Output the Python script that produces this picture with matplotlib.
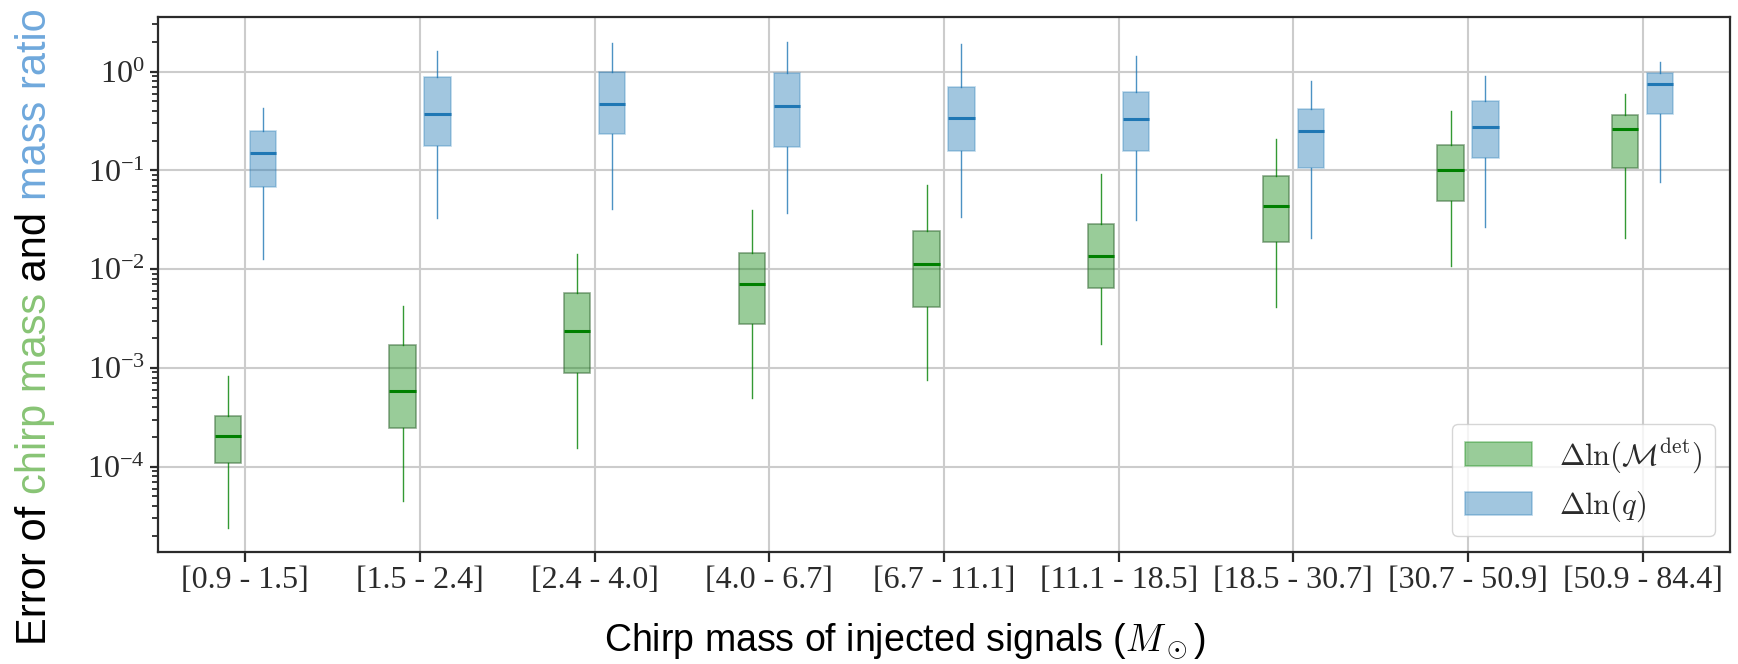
import matplotlib
matplotlib.use("Agg")
import matplotlib.pyplot as plt
from matplotlib.patches import Patch
import numpy as np

# mass bins on the x axis
bins = ["[0.9 - 1.5]", "[1.5 - 2.4]", "[2.4 - 4.0]", "[4.0 - 6.7]", "[6.7 - 11.1]",
        "[11.1 - 18.5]", "[18.5 - 30.7]", "[30.7 - 50.9]", "[50.9 - 84.4]"]

# chirp mass error: whisker low, q1, median, q3, whisker high
mc_lo = [2.42e-5, 4.5e-5, 1.56e-4, 4.98e-4, 7.5e-4, 1.73e-3, 4.1e-3, 1.08e-2, 2.05e-2]
mc_q1 = [1.08e-4, 2.44e-4, 8.8e-4, 2.78e-3, 4.1e-3, 6.4e-3, 1.88e-2, 4.9e-2, 1.07e-1]
mc_med = [2.05e-4, 5.8e-4, 2.36e-3, 7.0e-3, 1.135e-2, 1.367e-2, 4.36e-2, 1.01e-1, 2.63e-1]
mc_q3 = [3.3e-4, 1.69e-3, 5.8e-3, 1.45e-2, 2.43e-2, 2.88e-2, 8.77e-2, 1.81e-1, 3.64e-1]
mc_hi = [8.3e-4, 4.2e-3, 1.42e-2, 3.94e-2, 7.06e-2, 9.12e-2, 2.065e-1, 4.0e-1, 5.9e-1]

# mass ratio error
q_lo = [1.28e-2, 3.3e-2, 4.06e-2, 3.67e-2, 3.4e-2, 3.17e-2, 2.05e-2, 2.69e-2, 7.69e-2]
q_q1 = [6.8e-2, 1.77e-1, 2.32e-1, 1.73e-1, 1.56e-1, 1.56e-1, 1.07e-1, 1.33e-1, 3.73e-1]
q_med = [1.5e-1, 3.7e-1, 4.7e-1, 4.5e-1, 3.37e-1, 3.3e-1, 2.49e-1, 2.73e-1, 7.55e-1]
q_q3 = [2.49e-1, 8.9e-1, 1.0, 9.7e-1, 6.95e-1, 6.2e-1, 4.16e-1, 5.08e-1, 9.7e-1]
q_hi = [4.3e-1, 1.6, 1.97, 2.0, 1.89, 1.44, 8.05e-1, 9.1e-1, 1.26]

plt.rcParams['mathtext.fontset'] = 'stix'
plt.rcParams['font.family'] = ['Liberation Serif', 'DejaVu Serif']

GREEN = 'green'
BLUE = '#1f77b4'


def stats(lo, q1, med, q3, hi):
    return [dict(whislo=a, q1=b, med=c, q3=d, whishi=e, fliers=[])
            for a, b, c, d, e in zip(lo, q1, med, q3, hi)]


fig = plt.figure(figsize=(17.38, 6.64), dpi=100)
ax = fig.add_axes([0.0909, 0.1691, 0.9045, 0.8058])

x = np.arange(len(bins))
ax.bxp(stats(mc_lo, mc_q1, mc_med, mc_q3, mc_hi), positions=x - 0.1, widths=0.15,
       patch_artist=True, showcaps=False, showfliers=False,
       boxprops=dict(facecolor=(0, 0.5, 0, 0.4), edgecolor=(0.2, 0.4, 0.2, 0.55), linewidth=1.2),
       medianprops=dict(color=GREEN, linewidth=2.2),
       whiskerprops=dict(color=GREEN, linewidth=1.0, alpha=0.8), zorder=3)
ax.bxp(stats(q_lo, q_q1, q_med, q_q3, q_hi), positions=x + 0.1, widths=0.15,
       patch_artist=True, showcaps=False, showfliers=False,
       boxprops=dict(facecolor=(0.12, 0.47, 0.71, 0.42), edgecolor=(0.12, 0.47, 0.71, 0.3), linewidth=1.2),
       medianprops=dict(color=BLUE, linewidth=2.2),
       whiskerprops=dict(color=BLUE, linewidth=1.0, alpha=0.8), zorder=3)

ax.set_yscale('log')
ax.set_ylim(1.38e-5, 3.6)
ax.set_xlim(-0.5, len(bins) - 0.5)
ax.set_xticks(x)
ax.set_xticklabels(bins)
ax.grid(True, which='major', color='#cccccc', linewidth=1.5, zorder=0)
ax.set_axisbelow(True)

for s in ax.spines.values():
    s.set_color('#2b2b2b')
    s.set_linewidth(1.6)
ax.tick_params(axis='both', which='major', labelsize=23, colors='#2b2b2b', width=1.6)
ax.tick_params(axis='x', which='major', length=7)
ax.tick_params(axis='y', which='major', length=6)
ax.tick_params(axis='y', which='minor', length=4, width=1.3, colors='#2b2b2b')

ax.set_xlabel(r'Chirp mass of injected signals ($M_\odot$)', fontsize=27,
              family='Liberation Sans', math_fontfamily='cm')
ax.xaxis.set_label_coords(0.475, -0.13)

handles = [Patch(facecolor=(0, 0.5, 0, 0.4), edgecolor=(0, 0.5, 0, 0.35), linewidth=1.2),
           Patch(facecolor=(0.12, 0.47, 0.71, 0.42), edgecolor=(0.12, 0.47, 0.71, 0.35), linewidth=1.2)]
leg = ax.legend(handles, [r'$\Delta\ln(\mathcal{M}^{\rm det})$', r'$\Delta\ln(q)$'],
                loc='lower right', fontsize=22, handlelength=2.2, handleheight=0.8,
                borderaxespad=0.5, handletextpad=0.9, labelspacing=0.45)
for t in leg.get_texts():
    t.set_math_fontfamily('cm')
    t.set_color('#2b2b2b')
leg.set_zorder(5)

# y label with coloured words, built piece by piece
pieces = [('Error of ', 'black'), ('chirp mass', '#88c475'),
          (' and ', 'black'), ('mass ratio', '#6fa8dc')]
fig.canvas.draw()
renderer = fig.canvas.get_renderer()
FS = 30


def text_len(s):
    t = fig.text(0, 0, s + 'x', fontsize=FS, family='Liberation Sans')
    u = fig.text(0, 0, 'x', fontsize=FS, family='Liberation Sans')
    w = t.get_window_extent(renderer).width - u.get_window_extent(renderer).width
    t.remove()
    u.remove()
    return w


ypix = 664 - 645
xpix = 35
done = ''
for s, c in pieces:
    off = text_len(done) if done else 0
    fig.text(xpix / 1738, (ypix + off) / 664, s, color=c, fontsize=FS,
             family='Liberation Sans', rotation=90, rotation_mode='anchor',
             ha='left', va='center')
    done += s

fig.savefig('out.png', dpi=100)
